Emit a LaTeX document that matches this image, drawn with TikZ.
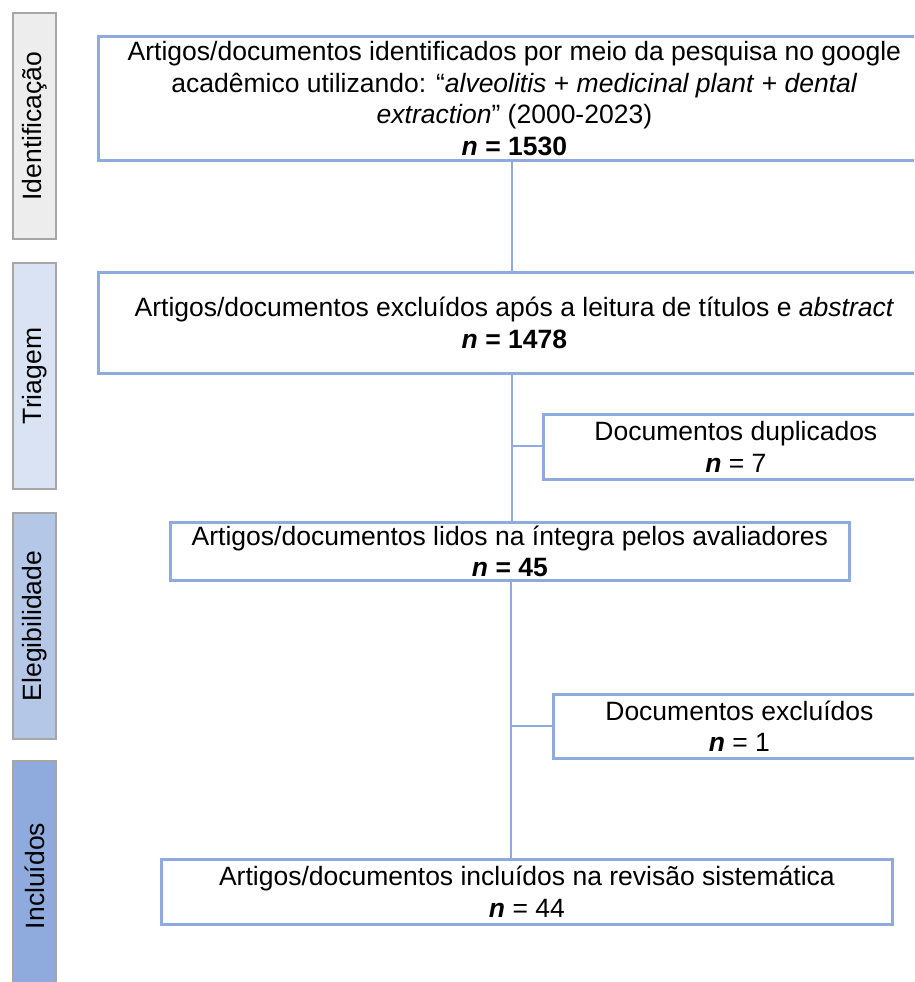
\documentclass[tikz,border=0pt]{standalone}
\usepackage{fontspec}
\setmainfont{Liberation Sans}
\definecolor{boxblue}{HTML}{8FAADC}
\definecolor{barborder}{HTML}{A6A6A6}
\definecolor{barA}{HTML}{EDEDED}
\definecolor{barB}{HTML}{DAE3F3}
\definecolor{barC}{HTML}{B4C7E7}
\definecolor{barD}{HTML}{8FAADC}
\begin{document}
\begin{tikzpicture}[x=1pt,y=-1pt,
  box/.style={draw=boxblue, line width=2.8pt, fill=white, anchor=north west, inner sep=0pt, align=center, font=\fontsize{26.5}{31.5}\selectfont},
  bar/.style={draw=barborder, line width=2pt, anchor=north west, inner sep=0pt, minimum width=43pt},
  barlabel/.style={rotate=90, inner sep=0pt, font=\fontsize{26.5}{31.5}\selectfont},
  conn/.style={draw=boxblue, line width=1.5pt}]
\useasboundingbox (0,0) rectangle (914,982);
\clip (0,0) rectangle (914,982);
\fill[white] (0,0) rectangle (914,982);
% side bars
\node[bar, fill=barA, minimum height=226pt] (sA) at (12,12) {};
\node[bar, fill=barB, minimum height=226pt] (sB) at (12,262) {};
\node[bar, fill=barC, minimum height=226pt] (sC) at (12,512) {};
\node[bar, fill=barD, minimum height=230pt] (sD) at (12,760) {};
\node[barlabel] (lA) at (sA.center) {Identificação};
\node[barlabel] (lB) at (sB.center) {Triagem};
\node[barlabel] (lC) at (sC.center) {Elegibilidade};
\node[barlabel] (lD) at (sD.center) {Incluídos};
% boxes
\node[box, minimum width=832pt, minimum height=124pt] (b1) at (97,35) {Artigos/documentos identificados por meio da pesquisa no google\\acadêmico utilizando: “\textit{alveolitis} + \textit{medicinal plant} + \textit{dental}\\\textit{extraction}” (2000-2023)\\\textbf{\textit{n} = 1530}};
\node[box, minimum width=832pt, minimum height=101pt] (b2) at (97,271) {Artigos/documentos excluídos após a leitura de títulos e \textit{abstract}\\\textbf{\textit{n} = 1478}};
\node[box, minimum width=385pt, minimum height=65pt] (b3) at (542,413) {Documentos duplicados\\\textbf{\textit{n}} = 7};
\node[box, minimum width=679pt, minimum height=58pt] (b4) at (169,521) {Artigos/documentos lidos na íntegra pelos avaliadores\\\textbf{\textit{n} = 45}};
\node[box, minimum width=372pt, minimum height=64pt] (b5) at (552,693) {Documentos excluídos\\\textbf{\textit{n}} = 1};
\node[box, minimum width=731pt, minimum height=65pt] (b6) at (160,858) {Artigos/documentos incluídos na revisão sistemática\\\textbf{\textit{n}} = 44};
% connectors
\coordinate (j1) at (512,446);
\coordinate (j2) at (511,726);
\draw[conn] (b1.south -| j1) -- (b2.north -| j1);
\draw[conn] (b2.south -| j1) -- (b4.north -| j1);
\draw[conn] (j1) -- (b3.west |- j1);
\draw[conn] (b4.south -| j2) -- (b6.north -| j2);
\draw[conn] (j2) -- (b5.west |- j2);
\end{tikzpicture}
\end{document}
